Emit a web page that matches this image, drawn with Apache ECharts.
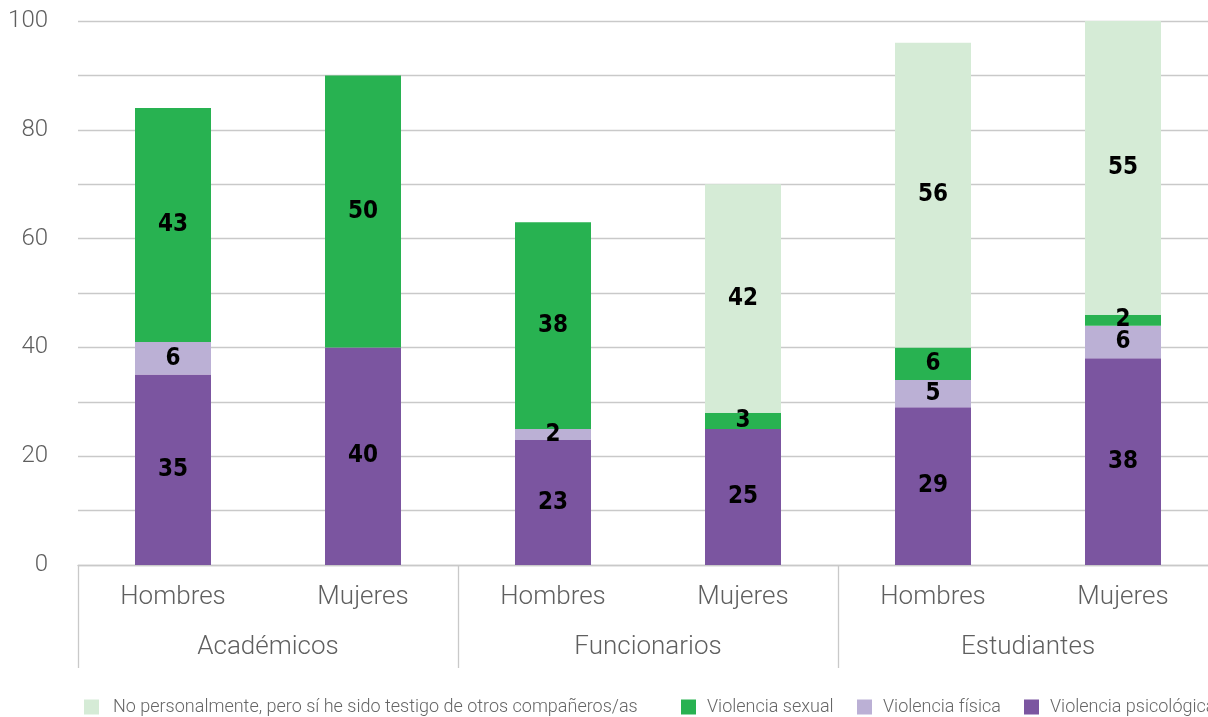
<!DOCTYPE html>
<html>
<head>
<meta charset="utf-8">
<script src="https://cdn.jsdelivr.net/npm/echarts@6/dist/echarts.min.js"></script>
<style>
  html, body { margin: 0; padding: 0; background: #fff; }
  #chart { width: 1208px; height: 717px; }
</style>
</head>
<body>
<div id="chart"></div>
<script>
// Respondents by group and sex
const groups = ['Académicos', 'Funcionarios', 'Estudiantes'];
const categories = ['Hombres', 'Mujeres', 'Hombres', 'Mujeres', 'Hombres', 'Mujeres'];

// Percentages per type of violence (null = not reported)
const psicologica = [35, 40, 23, 25, 29, 38];
const fisica      = [6, null, 2, null, 5, 6];
const sexual      = [43, 50, 38, 3, 6, 2];
const testigo     = [null, null, null, 42, 56, 55];

const seriesNames = [
  'Violencia psicológica',
  'Violencia física',
  'Violencia sexual',
  'No personalmente, pero sí he sido testigo de otros compañeros/as'
];
const seriesColors = ['#7b55a0', '#bbb0d5', '#28b251', '#d5ebd6'];
const seriesData = [psicologica, fisica, sexual, testigo];

const gridColor = '#c9c9c9';
const axisTextColor = '#5f5f5f';
const axisFont = 'Roboto, "Liberation Sans", sans-serif';
const labelFont = '"DejaVu Sans Condensed", "Liberation Sans Narrow", sans-serif';

// Legend entries, left to right, with their horizontal anchor and icon-text spacing
const legendOrder = [3, 2, 1, 0];
const legendLeft = [84, 681, 857, 1024];
const legendTextGap = [9, 6, 6, 6];

const chart = echarts.init(document.getElementById('chart'));

chart.setOption({
  animation: false,
  backgroundColor: '#ffffff',
  // the plot runs past the right edge of the canvas, so the last group is cut off
  grid: { left: 78, width: 1140, top: 21, bottom: 152, containLabel: false, outerBoundsMode: 'none' },
  legend: legendOrder.map((s, k) => ({
    data: [seriesNames[s]],
    left: legendLeft[k],
    top: 698,
    padding: 0,
    itemWidth: 15,
    itemHeight: 15,
    icon: 'rect',
    textStyle: {
      fontFamily: axisFont,
      fontWeight: 300,
      fontSize: 18,
      color: '#666666',
      padding: [0, 0, 0, legendTextGap[k]]
    }
  })),
  xAxis: [
    {
      type: 'category',
      data: categories,
      position: 'bottom',
      axisLine: { show: true, lineStyle: { color: gridColor, width: 1.3 } },
      axisTick: { show: false },
      axisLabel: {
        margin: 19,
        fontFamily: axisFont,
        fontWeight: 300,
        fontSize: 26,
        color: axisTextColor
      }
    },
    {
      type: 'category',
      data: groups,
      position: 'bottom',
      axisLine: { show: false },
      axisTick: { show: true, length: 103, lineStyle: { color: gridColor, width: 1.3 } },
      axisLabel: {
        margin: 69,
        fontFamily: axisFont,
        fontWeight: 300,
        fontSize: 26,
        color: axisTextColor
      }
    }
  ],
  yAxis: {
    type: 'value',
    min: 0,
    max: 100,
    interval: 10,
    axisLine: { show: false },
    axisTick: { show: false },
    splitLine: { show: true, lineStyle: { color: gridColor, width: 1.3 } },
    axisLabel: {
      margin: 30,
      fontFamily: axisFont,
      fontWeight: 300,
      fontSize: 24,
      color: axisTextColor,
      formatter: v => (v % 20 === 0 ? String(v) : '')
    }
  },
  series: seriesNames.map((name, i) => ({
    name,
    type: 'bar',
    stack: 'total',
    xAxisIndex: 0,
    barWidth: 76,
    data: seriesData[i],
    itemStyle: { color: seriesColors[i] },
    label: {
      show: true,
      position: 'inside',
      color: '#000000',
      fontFamily: labelFont,
      fontWeight: 'bold',
      fontSize: 24,
      formatter: p => (p.value == null ? '' : String(p.value))
    }
  }))
});
</script>
</body>
</html>
